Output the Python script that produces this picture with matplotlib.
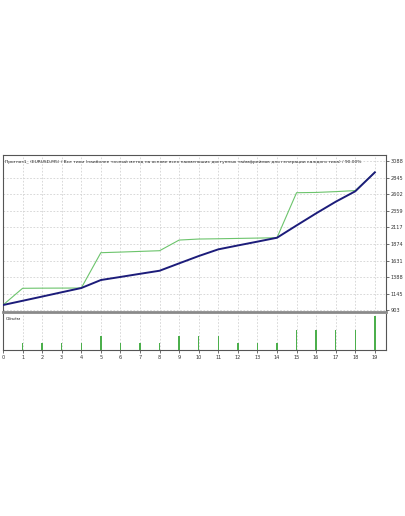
import matplotlib
matplotlib.use("Agg")
import matplotlib.pyplot as plt

# тестер: баланс / средства / объём
idx = list(range(20))
balance = [980, 1042, 1104, 1167, 1229, 1346, 1391, 1437, 1482, 1590,
           1697, 1795, 1852, 1908, 1965, 2145, 2322, 2492, 2645, 2922]
equity = [980, 1225, 1227, 1228, 1229, 1746, 1755, 1765, 1775, 1931,
          1946, 1950, 1955, 1960, 1965, 2624, 2628, 2640, 2655, 2922]
volume = [0, 1, 1, 1, 1, 2, 1, 1, 1, 2, 2, 2, 1, 1, 1, 3, 3, 3, 3, 5]
y_ticks = [903, 1145, 1388, 1631, 1874, 2117, 2359, 2602, 2845, 3088]
title = ("Прогноз1_ (EURUSD,M5) / Все тики (наиболее точный метод на основе всех "
         "наименьших доступных таймфреймов для генерации каждого тика) / 90.00%")

W, H = 406, 516
fig = plt.figure(figsize=(W / 100, H / 100), dpi=100)
fig.patch.set_facecolor("white")

def box(l, t, r, b):
    return [l / W, 1 - b / H, (r - l) / W, (b - t) / H]

grid_kw = dict(color="#d2d2d2", linestyle=(0, (2, 2)), linewidth=0.6)
tick_fs = 3.6

ax = fig.add_axes(box(3, 155, 386, 312))
ax.plot(idx, equity, color="#6cc46c", lw=0.8, zorder=3)
ax.plot(idx, balance, color="#1c1c7a", lw=1.4, zorder=4)
ax.set_xlim(0, 19.57)
ax.set_ylim(878, 3176)
ax.set_xticks(idx)
ax.set_yticks(y_ticks)
ax.yaxis.tick_right()
ax.tick_params(axis="y", labelsize=tick_fs, length=2, width=0.5, pad=1.5, colors="#333333")
ax.tick_params(axis="x", labelbottom=False, length=0)
ax.grid(True, **grid_kw)
for s in ax.spines.values():
    s.set_color("#555555")
    s.set_linewidth(0.8)
ax.spines["bottom"].set_color("#8a8a8a")
ax.spines["bottom"].set_linewidth(2.0)
ax.text(0.004, 0.965, title, transform=ax.transAxes, fontsize=3.15,
        va="top", ha="left", color="#222222")

vx = fig.add_axes(box(3, 314, 386, 350))
vx.bar(idx, volume, width=0.07, color="#4caf4c", zorder=3)
vx.set_xlim(0, 19.57)
vx.set_ylim(0, 5.3)
vx.set_xticks(idx)
vx.set_yticks([])
vx.tick_params(axis="x", labelsize=tick_fs, length=2, width=0.5, pad=1.5, colors="#333333")
vx.grid(True, axis="x", **grid_kw)
for s in vx.spines.values():
    s.set_color("#555555")
    s.set_linewidth(0.8)
vx.spines["top"].set_visible(False)
vx.text(0.008, 0.93, "Объём", transform=vx.transAxes, fontsize=3.2,
        va="top", ha="left", color="#222222")

fig.savefig("out.png", dpi=100, facecolor="white")
